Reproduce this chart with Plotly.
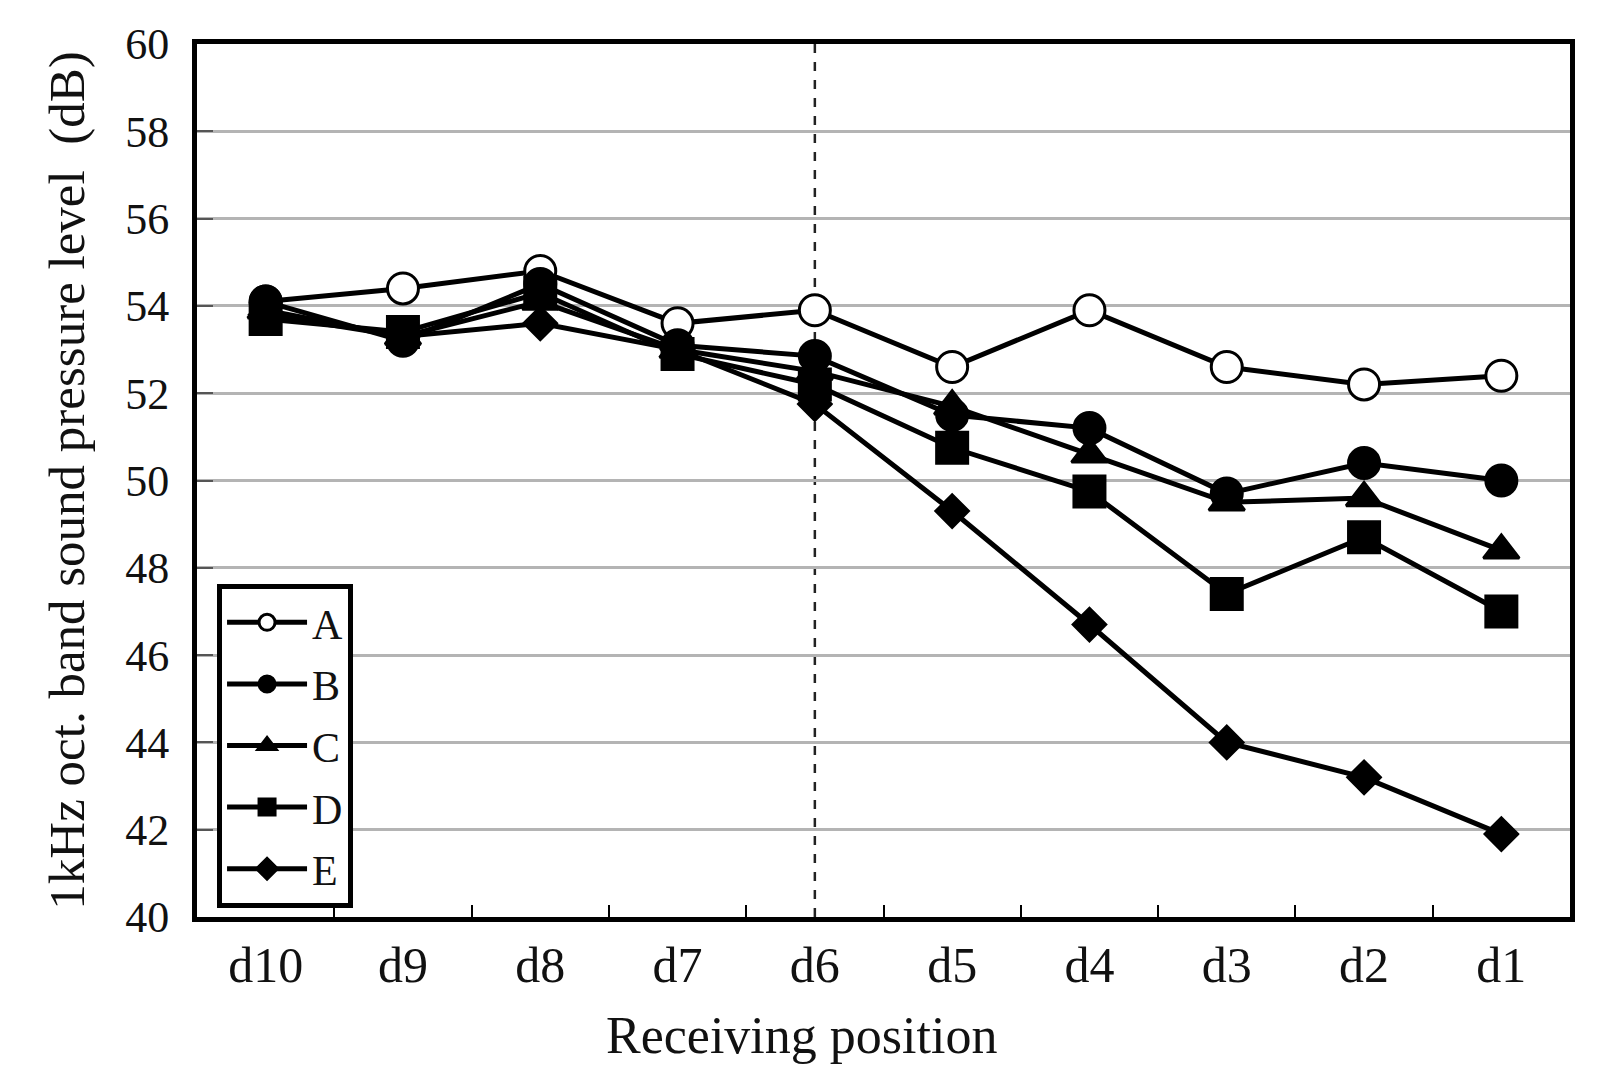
import plotly.graph_objects as go

positions = ["d10", "d9", "d8", "d7", "d6", "d5", "d4", "d3", "d2", "d1"]
series_names = ["A", "B", "C", "D", "E"]
values_A = [54.1, 54.4, 54.8, 53.6, 53.9, 52.6, 53.9, 52.6, 52.2, 52.4]
values_B = [54.1, 53.2, 54.5, 53.1, 52.85, 51.5, 51.2, 49.7, 50.4, 50.0]
values_C = [53.9, 53.3, 54.1, 53.0, 52.5, 51.7, 50.6, 49.5, 49.6, 48.4]
values_D = [53.7, 53.4, 54.3, 52.9, 52.2, 50.75, 49.75, 47.4, 48.7, 47.0]
values_E = [53.8, 53.3, 53.6, 53.0, 51.75, 49.3, 46.7, 44.0, 43.2, 41.9]
y_ticks = [40, 42, 44, 46, 48, 50, 52, 54, 56, 58, 60]
divider_position = "d6"

all_values = [values_A, values_B, values_C, values_D, values_E]
symbols = ["circle", "circle", "triangle-up", "square", "diamond"]
fills = ["white", "black", "black", "black", "black"]
sizes = [31, 31, 31, 31, 25]

FONT = "Liberation Serif, Times New Roman, serif"

fig = go.Figure()
for name, vals, sym, fill, sz in zip(series_names, all_values, symbols, fills, sizes):
    fig.add_trace(go.Scatter(
        x=positions, y=vals, name=name, mode="lines+markers",
        legendgroup=name,
        line=dict(color="black", width=5),
        marker=dict(symbol=sym, size=sz, color=fill,
                    line=dict(color="black", width=3)),
    ))

fig.add_shape(type="line", xref="x", yref="paper",
              x0=divider_position, x1=divider_position, y0=0, y1=1,
              line=dict(color="#222222", width=2.5, dash="dash"), layer="below")

fig.add_annotation(text="Receiving position", xref="paper", yref="paper",
                   x=0.44, y=0, yshift=-118, yanchor="middle", showarrow=False,
                   font=dict(family=FONT, size=52, color="#111111"))

fig.update_layout(
    width=1601, height=1084,
    paper_bgcolor="white", plot_bgcolor="white",
    margin=dict(l=189, r=39, t=36, b=175),
    font=dict(family=FONT, size=40, color="#111111"),
    showlegend=True,
    legend=dict(
        x=0.0146, y=0.382, xanchor="left", yanchor="top",
        bordercolor="black", borderwidth=5, bgcolor="white",
        font=dict(family=FONT, size=42, color="#111111"),
        tracegroupgap=4, itemwidth=80,
        entrywidth=150, entrywidthmode="pixels",
    ),
    xaxis=dict(
        type="category", categoryorder="array", categoryarray=positions,
        range=[-0.5, 9.5], tickson="boundaries",
        ticks="inside", ticklen=12, tickwidth=2, tickcolor="black",
        showgrid=False, zeroline=False,
        showline=True, linecolor="black", linewidth=5, mirror=True,
        tickfont=dict(family=FONT, size=50, color="#111111"),
        ticklabelstandoff=0,
    ),
    yaxis=dict(
        range=[40, 60], tickmode="array", tickvals=y_ticks,
        ticks="inside", ticklen=16, tickwidth=2, tickcolor="#555555",
        showgrid=True, gridcolor="#b4b4b4", gridwidth=2.5,
        zeroline=False,
        showline=True, linecolor="black", linewidth=5, mirror=True,
        tickfont=dict(family=FONT, size=44, color="#111111"),
        ticklabelstandoff=14,
        title=dict(text="1kHz oct. band sound pressure level  (dB)",
                   font=dict(family=FONT, size=51, color="#111111"),
                   standoff=26),
    ),
)

fig.write_html("out.html")
